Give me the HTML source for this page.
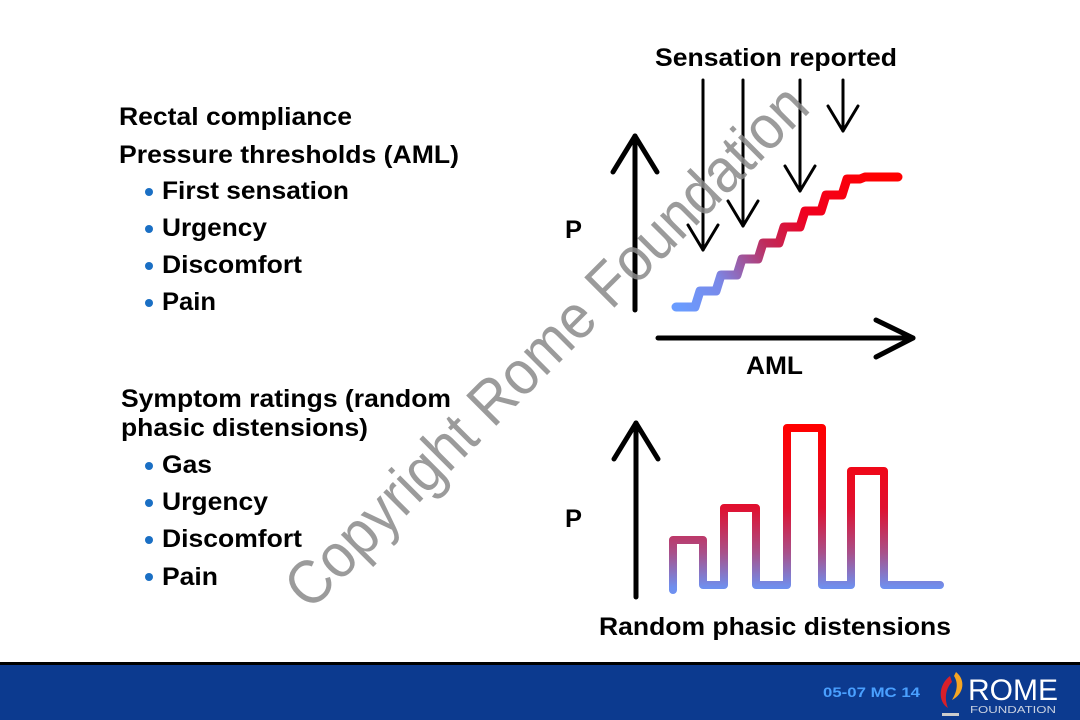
<!DOCTYPE html>
<html><head><meta charset="utf-8"><style>
html,body{margin:0;padding:0;background:#fff;}
svg{display:block;font-family:"Liberation Sans",Arial,sans-serif;}
.t{font-weight:bold;font-size:25px;fill:#000;}
</style></head><body>
<svg width="1080" height="720" viewBox="0 0 1080 720" xmlns="http://www.w3.org/2000/svg">
<defs>
<linearGradient id="g1" gradientUnits="userSpaceOnUse" x1="680" y1="310" x2="880" y2="175">
<stop offset="0" stop-color="#6a9cff"/><stop offset="0.2" stop-color="#7a88e8"/><stop offset="0.45" stop-color="#c02a5a"/><stop offset="0.65" stop-color="#f00020"/><stop offset="1" stop-color="#ff0000"/>
</linearGradient>
<linearGradient id="g2" gradientUnits="userSpaceOnUse" x1="0" y1="428" x2="0" y2="588">
<stop offset="0" stop-color="#ff0000"/><stop offset="0.5" stop-color="#e01030"/><stop offset="0.78" stop-color="#a8508a"/><stop offset="1" stop-color="#6e90f0"/>
</linearGradient>
</defs>

<!-- left text -->
<text class="t" x="119" y="125" textLength="233" lengthAdjust="spacingAndGlyphs">Rectal compliance</text>
<text class="t" x="119" y="163" textLength="340" lengthAdjust="spacingAndGlyphs">Pressure thresholds (AML)</text>
<g fill="#1a6fc4"><circle cx="149" cy="192" r="4"/><circle cx="149" cy="229" r="4"/><circle cx="149" cy="266" r="4"/><circle cx="149" cy="303" r="4"/>
<circle cx="149" cy="466" r="4"/><circle cx="149" cy="503" r="4"/><circle cx="149" cy="540" r="4"/><circle cx="149" cy="577" r="4"/></g>
<text class="t" x="162" y="199" textLength="187" lengthAdjust="spacingAndGlyphs">First sensation</text>
<text class="t" x="162" y="236" textLength="105" lengthAdjust="spacingAndGlyphs">Urgency</text>
<text class="t" x="162" y="273" textLength="140" lengthAdjust="spacingAndGlyphs">Discomfort</text>
<text class="t" x="162" y="310" textLength="54" lengthAdjust="spacingAndGlyphs">Pain</text>
<text class="t" x="121" y="407" textLength="330" lengthAdjust="spacingAndGlyphs">Symptom ratings (random</text>
<text class="t" x="121" y="436" textLength="247" lengthAdjust="spacingAndGlyphs">phasic distensions)</text>
<text class="t" x="162" y="473" textLength="50" lengthAdjust="spacingAndGlyphs">Gas</text>
<text class="t" x="162" y="510" textLength="106" lengthAdjust="spacingAndGlyphs">Urgency</text>
<text class="t" x="162" y="547" textLength="140" lengthAdjust="spacingAndGlyphs">Discomfort</text>
<text class="t" x="162" y="585" textLength="56" lengthAdjust="spacingAndGlyphs">Pain</text>

<!-- top chart -->
<text class="t" x="655" y="66" textLength="242" lengthAdjust="spacingAndGlyphs">Sensation reported</text>
<text class="t" x="565" y="238" textLength="17" lengthAdjust="spacingAndGlyphs">P</text>
<text class="t" x="746" y="374" textLength="57" lengthAdjust="spacingAndGlyphs">AML</text>
<g stroke="#000" fill="none" stroke-linecap="round" stroke-linejoin="round">
<line x1="635" y1="310" x2="635" y2="136" stroke-width="5"/>
<polyline points="613,172 635,136 657,172" stroke-width="5"/>
<line x1="658" y1="338" x2="913" y2="338" stroke-width="5"/>
<polyline points="876,320 913,338 876,357" stroke-width="5"/>
<g stroke-width="3">
<line x1="703" y1="80" x2="703" y2="250"/><polyline points="688,225 703,250 718,225"/>
<line x1="743" y1="80" x2="743" y2="226"/><polyline points="728,201 743,226 758,201"/>
<line x1="800" y1="80" x2="800" y2="191"/><polyline points="785,166 800,191 815,166"/>
<line x1="843" y1="80" x2="843" y2="131"/><polyline points="828,106 843,131 858,106"/>
</g>
</g>
<polyline fill="none" stroke="url(#g1)" stroke-width="9" stroke-linecap="round" stroke-linejoin="round"
points="676,307 695,307 700,291 716,291 721,275 737,275 742,259 758,259 763,243 779,243 784,227 800,227 805,211 821,211 826,195 842,195 847,179 860,179 865,177 898,177"/>

<!-- bottom chart -->
<text class="t" x="565" y="527" textLength="17" lengthAdjust="spacingAndGlyphs">P</text>
<g stroke="#000" fill="none" stroke-linecap="round" stroke-linejoin="round" stroke-width="5">
<line x1="636" y1="597" x2="636" y2="423"/>
<polyline points="614,459 636,423 658,459"/>
</g>
<polyline fill="none" stroke="url(#g2)" stroke-width="8" stroke-linecap="round" stroke-linejoin="round"
points="673,590 673,540 703,540 703,585 724,585 724,508 756,508 756,585 787,585 787,428 822,428 822,585 851,585 851,471 884,471 884,585 940,585"/>
<text class="t" x="599" y="635" textLength="352" lengthAdjust="spacingAndGlyphs">Random phasic distensions</text>

<!-- watermark -->
<text x="0" y="0" transform="translate(310,612) rotate(-45)" font-size="62" fill="#8a8a8a" fill-opacity="0.85" textLength="710" lengthAdjust="spacingAndGlyphs">Copyright Rome Foundation</text>

<!-- footer -->
<rect x="0" y="662" width="1080" height="58" fill="#0c3a8f"/>
<rect x="0" y="662" width="1080" height="3" fill="#000"/>
<text x="823" y="697" font-size="14" font-weight="bold" fill="#4aa0ff" textLength="97" lengthAdjust="spacingAndGlyphs">05-07  MC 14</text>
<path d="M950,676 C938,685 938,702 948,708 C944,698 946,688 952,682 Z" fill="#d8202a"/>
<path d="M956,672 C966,680 964,694 952,700 C958,690 958,682 954,676 Z" fill="#f5a623"/>
<rect x="942" y="713" width="17" height="3" fill="#ccc"/>
<text x="968" y="700" font-size="30" fill="#fff" textLength="90" lengthAdjust="spacingAndGlyphs">ROME</text>
<text x="970" y="713" font-size="10" fill="#c8d0e0" textLength="86" lengthAdjust="spacingAndGlyphs">FOUNDATION</text>
</svg>
</body></html>
